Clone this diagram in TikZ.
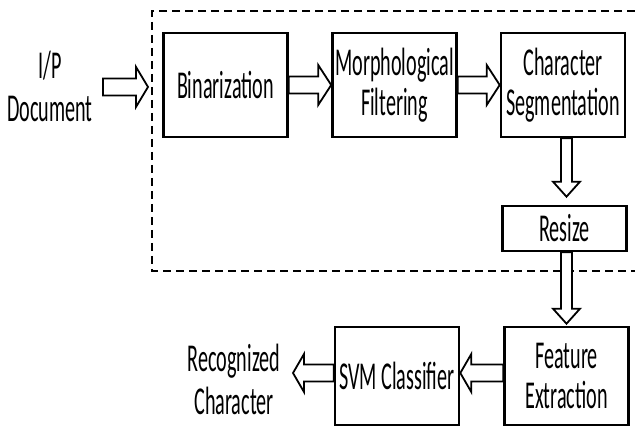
\documentclass[tikz,border=0pt]{standalone}
\usepackage{fontspec}
\setmainfont{Carlito}[FakeStretch=0.51]
\usetikzlibrary{calc}

% hollow block arrow from #1 to #2: shaft half-width #3, head half-width #4, head length #5 (pt)
\newcommand\blockarrow[5]{%
  \draw[barrow] let \p1=(#1), \p2=(#2),
    \n1={atan2(\y2-\y1,\x2-\x1)}, \n2={veclen(\x2-\x1,\y2-\y1)} in
    [shift={(\p1)}, rotate=\n1]
    (0pt,-#3pt) -- ({\n2-#5pt},-#3pt) -- ({\n2-#5pt},-#4pt) -- (\n2,0pt)
    -- ({\n2-#5pt},#4pt) -- ({\n2-#5pt},#3pt) -- (0pt,#3pt) -- cycle;}

\begin{document}
\begin{tikzpicture}[x=1pt,y=-1pt,
  box/.style={draw, line width=2.6pt, minimum width=#1, align=center,
    inner sep=0pt, font=\fontsize{39.5}{40}\selectfont},
  box/.default=124pt,
  lbl/.style={align=center, inner sep=0pt, font=\fontsize{39.5}{43}\selectfont},
  barrow/.style={draw, line width=1.8pt, fill=white, line join=miter},
  frame/.style={dashed, line width=2.2pt, dash pattern=on 8pt off 5pt}]
\useasboundingbox (0,0) rectangle (635,430);

% dashed frame, open on the right
\draw[frame] (635,11) -- (152,11) -- (152,271) -- (635,271);

\node[box, minimum height=104pt] (bin) at (225.5,85) {Binarization};
\node[box, minimum height=104pt] (mor) at (394.5,85) {Morphological\\Filtering};
\node[box, minimum height=104pt] (seg) at (563,85) {Character\\Segmentation};
\node[box, minimum height=45pt] (res) at (564.5,228.5) {Resize};
\node[box, minimum height=98pt] (fea) at (566.5,376) {Feature\\Extraction};
\node[box, minimum height=98pt] (svm) at (397,376) {SVM Classifier};

\node[lbl] (in) at (50,86) {I/P\\Document};
\node[lbl] (out) at (234,379) {Recognized\\Character};

\coordinate (inA) at (103,87);
\coordinate (inB) at (148,87);
\coordinate (outB) at (293,373);

\blockarrow{inA}{inB}{8.5}{20}{12}
\blockarrow{bin.east}{mor.west}{8.5}{20}{13}
\blockarrow{mor.east}{seg.west}{8.5}{20}{13}
\blockarrow{[xshift=3.5pt]seg.south}{[xshift=3.5pt,yshift=8pt]seg.south |- res.north}{5.5}{13.5}{15}
\blockarrow{[xshift=2pt]res.south}{[xshift=2pt,yshift=2pt]res.south |- fea.north}{5.5}{13.5}{15}
\blockarrow{[yshift=3pt]fea.west}{[yshift=3pt]svm.east}{8.5}{19}{11}
\blockarrow{[yshift=3pt]svm.west}{outB}{8.5}{19}{11}
\end{tikzpicture}
\end{document}
